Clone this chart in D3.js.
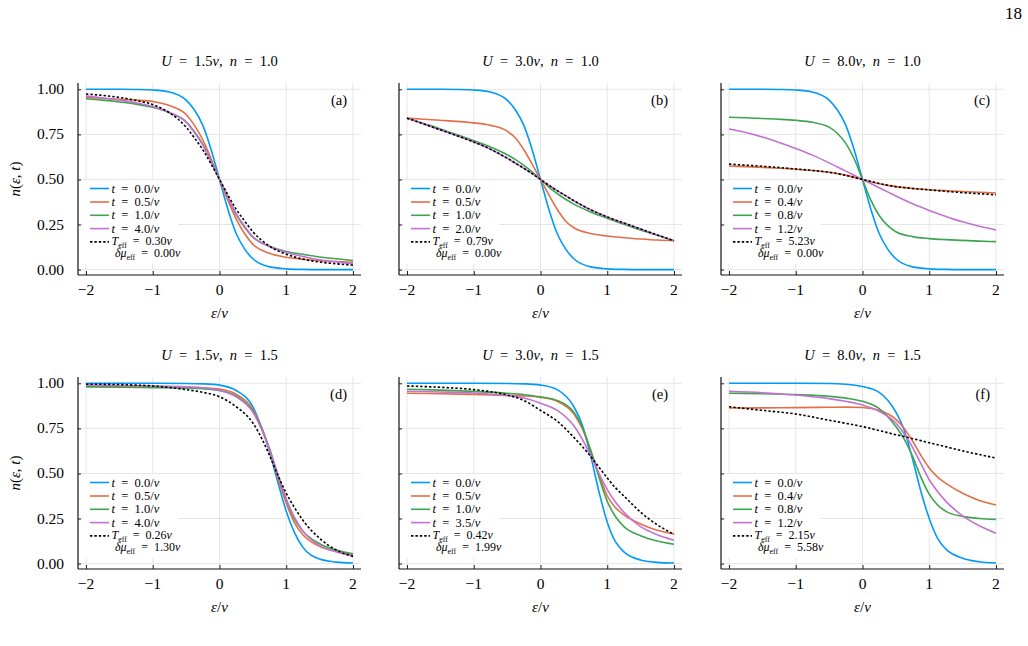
<!DOCTYPE html>
<html>
<head>
<meta charset="utf-8">
<script src="https://cdn.jsdelivr.net/npm/d3@7"></script>
<style>
  body { margin: 0; background: #fff; }
  svg text { fill: #000; white-space: pre; }
</style>
</head>
<body>
<div id="chart"></div>
<script>
// sample points (ε/v)
const xsTop = [-2, -1.75, -1.5, -1.25, -1, -0.75, -0.5, -0.375, -0.25, -0.125, 0,
  0.125, 0.25, 0.375, 0.5, 0.75, 1, 1.25, 1.5, 1.75, 2];
const xsBottom = [-2, -1.5, -1, -0.5, -0.25, 0, 0.25, 0.5, 0.625, 0.75, 0.875,
  1, 1.125, 1.25, 1.5, 1.75, 2];

// (a) U = 1.5v, n = 1.0
const aT0 = [1, 1, 1, 0.999, 0.996, 0.985, 0.94, 0.885, 0.8, 0.665, 0.5, 0.335, 0.2, 0.115, 0.06, 0.015, 0.004, 0.001, 0, 0, 0];
const aT1 = [0.955, 0.95, 0.945, 0.94, 0.932, 0.91, 0.86, 0.8, 0.72, 0.615, 0.5, 0.385, 0.28, 0.2, 0.14, 0.09, 0.068, 0.057, 0.05, 0.045, 0.041];
const aT2 = [0.948, 0.94, 0.93, 0.918, 0.9, 0.87, 0.82, 0.765, 0.695, 0.6, 0.5, 0.4, 0.305, 0.235, 0.18, 0.13, 0.1, 0.085, 0.07, 0.06, 0.05];
const aT3 = [0.962, 0.952, 0.94, 0.925, 0.905, 0.872, 0.818, 0.76, 0.69, 0.598, 0.5, 0.402, 0.31, 0.24, 0.182, 0.128, 0.095, 0.073, 0.055, 0.043, 0.034];
const aFit = [0.974, 0.966, 0.955, 0.938, 0.915, 0.87, 0.79, 0.73, 0.665, 0.585, 0.5, 0.415, 0.335, 0.27, 0.21, 0.13, 0.085, 0.058, 0.042, 0.032, 0.025];

// (b) U = 3.0v, n = 1.0
const bT0 = [1, 1, 1, 0.999, 0.996, 0.985, 0.94, 0.885, 0.8, 0.665, 0.5, 0.335, 0.2, 0.115, 0.06, 0.015, 0.004, 0.001, 0, 0, 0];
const bT1 = [0.84, 0.834, 0.828, 0.822, 0.814, 0.8, 0.768, 0.73, 0.665, 0.585, 0.5, 0.415, 0.335, 0.27, 0.232, 0.2, 0.186, 0.177, 0.17, 0.164, 0.16];
const bT2 = [0.84, 0.81, 0.78, 0.748, 0.715, 0.68, 0.637, 0.61, 0.578, 0.542, 0.5, 0.458, 0.422, 0.39, 0.363, 0.32, 0.285, 0.252, 0.22, 0.19, 0.16];
const bT3 = [0.84, 0.808, 0.775, 0.742, 0.708, 0.668, 0.618, 0.59, 0.562, 0.532, 0.5, 0.468, 0.438, 0.41, 0.382, 0.332, 0.292, 0.258, 0.225, 0.192, 0.16];
const bFit = [0.84, 0.808, 0.775, 0.742, 0.708, 0.668, 0.618, 0.59, 0.562, 0.532, 0.5, 0.468, 0.438, 0.41, 0.382, 0.332, 0.292, 0.258, 0.225, 0.192, 0.16];

// (c) U = 8.0v, n = 1.0
const cT0 = [1, 1, 1, 0.999, 0.996, 0.985, 0.94, 0.885, 0.8, 0.665, 0.5, 0.335, 0.2, 0.115, 0.06, 0.015, 0.004, 0.001, 0, 0, 0];
const cT1 = [0.575, 0.571, 0.567, 0.562, 0.557, 0.55, 0.54, 0.533, 0.524, 0.513, 0.5, 0.487, 0.476, 0.467, 0.46, 0.45, 0.443, 0.438, 0.433, 0.429, 0.425];
const cT2 = [0.845, 0.842, 0.838, 0.834, 0.828, 0.817, 0.79, 0.755, 0.7, 0.615, 0.5, 0.385, 0.3, 0.245, 0.21, 0.183, 0.172, 0.166, 0.162, 0.158, 0.155];
const cT3 = [0.78, 0.76, 0.735, 0.705, 0.672, 0.635, 0.592, 0.569, 0.546, 0.523, 0.5, 0.477, 0.454, 0.431, 0.408, 0.365, 0.328, 0.295, 0.265, 0.24, 0.22];
const cFit = [0.585, 0.579, 0.573, 0.566, 0.558, 0.55, 0.54, 0.532, 0.522, 0.511, 0.5, 0.489, 0.478, 0.468, 0.46, 0.45, 0.442, 0.434, 0.427, 0.421, 0.415];

// (d) U = 1.5v, n = 1.5
const dT0 = [1, 1, 1, 0.999, 0.997, 0.99, 0.96, 0.87, 0.76, 0.62, 0.45, 0.29, 0.17, 0.09, 0.025, 0.008, 0.003];
const dT1 = [0.985, 0.983, 0.981, 0.978, 0.975, 0.968, 0.94, 0.855, 0.76, 0.63, 0.475, 0.335, 0.225, 0.16, 0.095, 0.068, 0.05];
const dT2 = [0.98, 0.978, 0.976, 0.973, 0.97, 0.96, 0.93, 0.845, 0.755, 0.635, 0.49, 0.355, 0.245, 0.18, 0.11, 0.075, 0.055];
const dT3 = [0.99, 0.988, 0.985, 0.98, 0.975, 0.96, 0.925, 0.84, 0.75, 0.635, 0.495, 0.36, 0.255, 0.18, 0.1, 0.065, 0.045];
const dFit = [0.995, 0.993, 0.985, 0.965, 0.95, 0.925, 0.87, 0.78, 0.7, 0.6, 0.49, 0.39, 0.31, 0.24, 0.14, 0.075, 0.04];

// (e) U = 3.0v, n = 1.5
const eT0 = [1, 1, 1, 0.999, 0.997, 0.99, 0.965, 0.87, 0.77, 0.6, 0.4, 0.23, 0.12, 0.065, 0.02, 0.007, 0.003];
const eT1 = [0.945, 0.942, 0.938, 0.933, 0.93, 0.922, 0.9, 0.83, 0.75, 0.63, 0.495, 0.375, 0.31, 0.27, 0.22, 0.185, 0.165];
const eT2 = [0.967, 0.962, 0.955, 0.945, 0.937, 0.925, 0.905, 0.84, 0.76, 0.63, 0.48, 0.345, 0.26, 0.205, 0.155, 0.125, 0.107];
const eT3 = [0.956, 0.952, 0.946, 0.932, 0.918, 0.89, 0.85, 0.765, 0.69, 0.6, 0.5, 0.41, 0.34, 0.285, 0.205, 0.16, 0.13];
const eFit = [0.985, 0.978, 0.965, 0.935, 0.905, 0.85, 0.79, 0.7, 0.65, 0.595, 0.535, 0.475, 0.42, 0.375, 0.285, 0.215, 0.162];

// (f) U = 8.0v, n = 1.5
const fT0 = [1, 1, 1, 0.999, 0.995, 0.982, 0.95, 0.84, 0.74, 0.58, 0.4, 0.25, 0.14, 0.08, 0.03, 0.01, 0.003];
const fT1 = [0.863, 0.864, 0.865, 0.867, 0.868, 0.866, 0.85, 0.8, 0.75, 0.68, 0.6, 0.53, 0.48, 0.445, 0.39, 0.35, 0.325];
const fT2 = [0.945, 0.942, 0.937, 0.928, 0.918, 0.9, 0.86, 0.76, 0.69, 0.595, 0.48, 0.385, 0.325, 0.29, 0.262, 0.25, 0.245];
const fT3 = [0.956, 0.948, 0.935, 0.915, 0.9, 0.88, 0.845, 0.78, 0.72, 0.645, 0.555, 0.465, 0.4, 0.345, 0.265, 0.21, 0.168];
const fFit = [0.87, 0.85, 0.83, 0.795, 0.778, 0.76, 0.738, 0.715, 0.705, 0.693, 0.682, 0.67, 0.659, 0.648, 0.625, 0.605, 0.585];

// legend values
const timesA = ['0.0', '0.5', '1.0', '4.0'];
const timesB = ['0.0', '0.5', '1.0', '2.0'];
const timesC = ['0.0', '0.4', '0.8', '1.2'];
const timesD = ['0.0', '0.5', '1.0', '4.0'];
const timesE = ['0.0', '0.5', '1.0', '3.5'];
const timesF = ['0.0', '0.4', '0.8', '1.2'];
const tEff = ['0.30', '0.79', '5.23', '0.26', '0.42', '2.15'];
const muEff = ['0.00', '0.00', '0.00', '1.30', '1.99', '5.58'];
const uValues = ['1.5', '3.0', '8.0', '1.5', '3.0', '8.0'];
const nValues = ['1.0', '1.0', '1.0', '1.5', '1.5', '1.5'];
const tags = ['a', 'b', 'c', 'd', 'e', 'f'];

const xTicks = [-2, -1, 0, 1, 2];
const yTicks = [0, 0.25, 0.5, 0.75, 1];
const palette = ['#009afa', '#e36f47', '#3ea44e', '#c371d2'];

const panels = [
  { xs: xsTop, curves: [aT0, aT1, aT2, aT3], fit: aFit, times: timesA },
  { xs: xsTop, curves: [bT0, bT1, bT2, bT3], fit: bFit, times: timesB },
  { xs: xsTop, curves: [cT0, cT1, cT2, cT3], fit: cFit, times: timesC },
  { xs: xsBottom, curves: [dT0, dT1, dT2, dT3], fit: dFit, times: timesD },
  { xs: xsBottom, curves: [eT0, eT1, eT2, eT3], fit: eFit, times: timesE },
  { xs: xsBottom, curves: [fT0, fT1, fT2, fT3], fit: fFit, times: timesF },
];

const width = 1028;
const height = 646;
const colLeft = [78, 399, 721];
const rowTop = [83, 377];
const plotW = 283;
const plotH = 192;
const EQ = '\u2002=\u2002';

const svg = d3.select('#chart')
  .append('svg')
  .attr('width', width)
  .attr('height', height)
  .attr('font-family', '"Liberation Serif", "Times New Roman", serif');

svg.append('rect').attr('width', width).attr('height', height).attr('fill', '#fff');

// writes a run of (text, kind) pieces into a <text>: kind 'i' italic, 'sub' subscript
function rich(textSel, parts) {
  let shift = 0;
  parts.forEach(([s, kind]) => {
    const t = textSel.append('tspan').text(s);
    if (kind === 'i') t.attr('font-style', 'italic');
    if (kind === 'sub') {
      t.attr('font-size', '0.66em').attr('dy', 3 - shift);
      shift = 3;
    } else if (shift) {
      t.attr('dy', -shift);
      shift = 0;
    }
  });
}

svg.append('text')
  .attr('x', 1022)
  .attr('y', 19)
  .attr('text-anchor', 'end')
  .attr('font-size', 17)
  .text('18');

panels.forEach((p, i) => {
  const col = i % 3;
  const row = Math.floor(i / 3);
  const left = colLeft[col];
  const top = rowTop[row];

  const x = d3.scaleLinear().domain([-2.12, 2.12]).range([left, left + plotW]);
  const y = d3.scaleLinear().domain([-0.03, 1.035]).range([top + plotH, top]);

  const g = svg.append('g');

  // grid
  g.append('g')
    .selectAll('line')
    .data(xTicks)
    .join('line')
    .attr('x1', d => x(d)).attr('x2', d => x(d))
    .attr('y1', top).attr('y2', top + plotH)
    .attr('stroke', '#e6e6e6').attr('stroke-width', 1);

  g.append('g')
    .selectAll('line')
    .data(yTicks)
    .join('line')
    .attr('x1', left).attr('x2', left + plotW)
    .attr('y1', d => y(d)).attr('y2', d => y(d))
    .attr('stroke', '#e6e6e6').attr('stroke-width', 1);

  // axes: ticks point inward, labels drawn separately
  const bottom = d3.axisTop(x).tickValues(xTicks).tickSize(4).tickFormat('').tickSizeOuter(0);
  const leftAxis = d3.axisRight(y).tickValues(yTicks).tickSize(3).tickFormat('').tickSizeOuter(0);

  g.append('g')
    .attr('transform', `translate(0, ${top + plotH})`)
    .call(bottom)
    .call(s => s.select('.domain').remove())
    .call(s => s.selectAll('line').attr('stroke', '#222'));

  g.append('g')
    .attr('transform', `translate(${left}, 0)`)
    .call(leftAxis)
    .call(s => s.select('.domain').remove())
    .call(s => s.selectAll('line').attr('stroke', '#222'));

  g.append('line')
    .attr('x1', left).attr('x2', left + plotW)
    .attr('y1', top + plotH).attr('y2', top + plotH)
    .attr('stroke', '#111').attr('stroke-width', 1.2);
  g.append('line')
    .attr('x1', left).attr('x2', left)
    .attr('y1', top).attr('y2', top + plotH)
    .attr('stroke', '#111').attr('stroke-width', 1.2);

  g.append('g')
    .selectAll('text')
    .data(xTicks)
    .join('text')
    .attr('x', d => x(d))
    .attr('y', top + plotH + 20)
    .attr('text-anchor', 'middle')
    .attr('font-size', 15.5)
    .text(d => (d < 0 ? '\u2212' + Math.abs(d) : String(d)));

  if (col === 0) {
    g.append('g')
      .selectAll('text')
      .data(yTicks)
      .join('text')
      .attr('x', left - 14)
      .attr('y', d => y(d) + 5)
      .attr('text-anchor', 'end')
      .attr('font-size', 15.5)
      .text(d => d3.format('.2f')(d));

    const yl = g.append('text')
      .attr('transform', `translate(${left - 58}, ${top + plotH / 2}) rotate(-90)`)
      .attr('text-anchor', 'middle')
      .attr('font-size', 15);
    rich(yl, [['n', 'i'], ['(', ''], ['ε', 'i'], [', ', ''], ['t', 'i'], [')', '']]);
  }

  const xl = g.append('text')
    .attr('x', left + plotW / 2)
    .attr('y', top + plotH + 43)
    .attr('text-anchor', 'middle')
    .attr('font-size', 15);
  rich(xl, [['ε', 'i'], ['/', ''], ['v', 'i']]);

  const title = g.append('text')
    .attr('x', left + plotW / 2)
    .attr('y', top - 17)
    .attr('text-anchor', 'middle')
    .attr('font-size', 14.5);
  rich(title, [['U', 'i'], [EQ + uValues[i], ''], ['v', 'i'], [',\u2002', ''], ['n', 'i'], [EQ + nValues[i], '']]);

  g.append('text')
    .attr('x', left + plotW - 14)
    .attr('y', top + 22)
    .attr('text-anchor', 'end')
    .attr('font-size', 14.5)
    .text(`(${tags[i]})`);

  // curves
  const clipId = `clip-${i}`;
  svg.append('clipPath').attr('id', clipId)
    .append('rect').attr('x', left).attr('y', top).attr('width', plotW).attr('height', plotH);

  const line = d3.line()
    .x((d, k) => x(p.xs[k]))
    .y(d => y(d))
    .curve(d3.curveMonotoneX);

  const curveG = g.append('g').attr('clip-path', `url(#${clipId})`);
  p.curves.forEach((vals, k) => {
    curveG.append('path')
      .datum(vals)
      .attr('d', line)
      .attr('fill', 'none')
      .attr('stroke', palette[k])
      .attr('stroke-width', 1.6);
  });
  curveG.append('path')
    .datum(p.fit)
    .attr('d', line)
    .attr('fill', 'none')
    .attr('stroke', '#000')
    .attr('stroke-width', 1.6)
    .attr('stroke-dasharray', '2.4,2');

  // legend
  const lg = g.append('g').attr('transform', `translate(${left}, ${top})`);
  lg.append('rect')
    .attr('x', 5).attr('y', 97)
    .attr('width', 95).attr('height', 84)
    .attr('fill', '#fff');

  const rowsY = [105.5, 119, 132.3, 145.6, 158.9];
  p.times.forEach((tv, k) => {
    lg.append('line')
      .attr('x1', 12).attr('x2', 31)
      .attr('y1', rowsY[k]).attr('y2', rowsY[k])
      .attr('stroke', palette[k]).attr('stroke-width', 1.6);
    const t = lg.append('text')
      .attr('x', 33.5).attr('y', rowsY[k] + 4)
      .attr('font-size', 12.5);
    rich(t, [['t', 'i'], [EQ + tv + '/', ''], ['v', 'i']]);
  });
  lg.append('line')
    .attr('x1', 12).attr('x2', 31)
    .attr('y1', rowsY[4]).attr('y2', rowsY[4])
    .attr('stroke', '#000').attr('stroke-width', 1.6)
    .attr('stroke-dasharray', '2.4,2');
  const t1 = lg.append('text')
    .attr('x', 33.5).attr('y', rowsY[4] + 3)
    .attr('font-size', 12);
  rich(t1, [['T', 'i'], ['eff', 'sub'], [EQ + tEff[i], ''], ['v', 'i']]);
  const t2 = lg.append('text')
    .attr('x', 37).attr('y', rowsY[4] + 15)
    .attr('font-size', 12);
  rich(t2, [['δμ', 'i'], ['eff', 'sub'], [EQ + muEff[i], ''], ['v', 'i']]);
});
</script>
</body>
</html>
